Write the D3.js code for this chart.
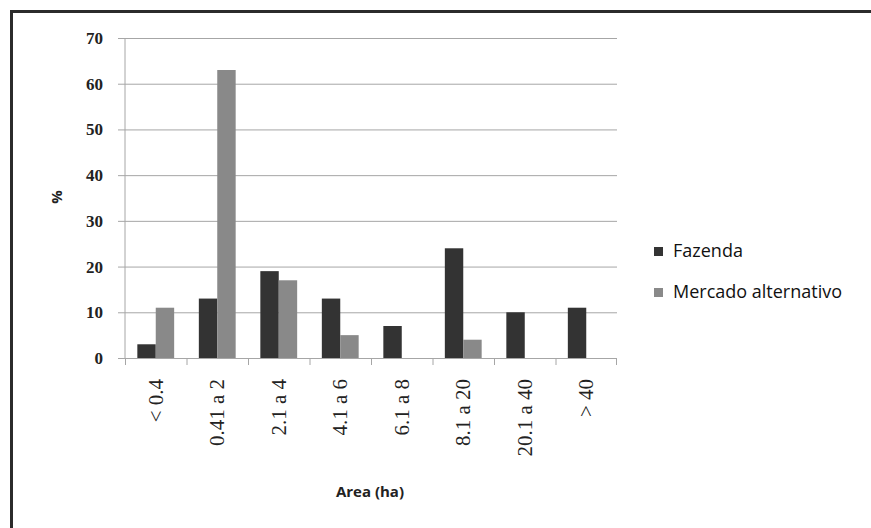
<!DOCTYPE html>
<html>
  <head>
    <title>Area (ha)</title>
    <script src="https://d3js.org/d3.v7.min.js"></script>
  </head>
  <style>
    body { margin: 0; background: #fff; }
    .grid line { stroke: #a6a6a6; }
    .grid path.domain { stroke: none; }
    .ytick text { font-family: "Liberation Serif", serif; font-size: 17px; font-weight: bold; fill: #222; }
    .xtick text { font-family: "Liberation Serif", serif; font-size: 21px; fill: #222; }
  </style>
  <body>
    <svg id="chart" width="871" height="528"></svg>

    <script>
      var categories = ["< 0.4", "0.41 a 2", "2.1 a 4", "4.1 a 6", "6.1 a 8", "8.1 a 20", "20.1 a 40", "> 40"];
      var fazenda = [3, 13, 19, 13, 7, 24, 10, 11];
      var mercado = [11, 63, 17, 5, 0, 4, 0, 0];
      var seriesNames = ["Fazenda", "Mercado alternativo"];
      var seriesColors = ["#333333", "#898989"];
      var yTicks = [0, 10, 20, 30, 40, 50, 60, 70];

      drawChart();

      function drawChart() {
        var svg = d3.select("#chart");

        // outer frame, open past the right/bottom edge like the screenshot
        svg.append("rect")
          .attr("x", 11.5).attr("y", 11.5)
          .attr("width", 900).attr("height", 600)
          .attr("fill", "none")
          .attr("stroke", "#2b2b2b")
          .attr("stroke-width", 3);

        var x0 = 125, x1 = 617, y0 = 358, y1 = 38;

        var xScale = d3.scaleBand().domain(categories).range([x0, x1]).padding(0);
        var yScale = d3.scaleLinear().domain([0, 70]).range([y0, y1]);
        var sub = d3.scaleBand().domain(seriesNames).range([0, xScale.bandwidth()]).paddingInner(0).paddingOuter(0.67);

        // gridlines
        svg.append("g").attr("class", "grid")
          .attr("transform", "translate(" + x0 + ",0)")
          .call(d3.axisRight(yScale).tickValues(yTicks).tickSize(x1 - x0).tickFormat(""));

        // y axis
        var yAxisG = svg.append("g").attr("class", "ytick")
          .attr("transform", "translate(" + x0 + ",0)")
          .call(d3.axisLeft(yScale).tickValues(yTicks).tickSize(7).tickPadding(15));
        yAxisG.selectAll("line").attr("stroke", "#a6a6a6");
        yAxisG.select("path.domain").attr("stroke", "#a6a6a6").attr("d", "M0," + y1 + "V" + y0);

        // bars
        [fazenda, mercado].forEach(function (vals, si) {
          svg.append("g").selectAll("rect")
            .data(vals)
            .enter()
            .append("rect")
              .attr("x", (d, i) => xScale(categories[i]) + sub(seriesNames[si]))
              .attr("width", sub.bandwidth())
              .attr("y", d => yScale(d))
              .attr("height", d => y0 - yScale(d))
              .attr("fill", seriesColors[si]);
        });

        // x axis with ticks between categories
        var xAxisG = svg.append("g").attr("class", "xtick");
        xAxisG.append("line")
          .attr("x1", x0).attr("x2", x1)
          .attr("y1", y0 + 0.5).attr("y2", y0 + 0.5)
          .attr("stroke", "#a6a6a6");
        xAxisG.selectAll("line.tk")
          .data(categories.concat(["end"]))
          .enter()
          .append("line")
            .attr("class", "tk")
            .attr("x1", (d, i) => i < categories.length ? xScale(d) + 0.5 : x1 - 0.5)
            .attr("x2", (d, i) => i < categories.length ? xScale(d) + 0.5 : x1 - 0.5)
            .attr("y1", y0).attr("y2", y0 + 7)
            .attr("stroke", "#a6a6a6");
        xAxisG.selectAll("text")
          .data(categories)
          .enter()
          .append("text")
            .attr("transform", d => "translate(" + (xScale(d) + xScale.bandwidth() / 2 + 7) + "," + (y0 + 21) + ") rotate(-90)")
            .attr("text-anchor", "end")
            .text(d => d);

        // axis titles
        svg.append("text")
          .attr("x", 370).attr("y", 497)
          .attr("text-anchor", "middle")
          .attr("font-family", "Open Sans, sans-serif")
          .attr("font-size", 15).attr("font-weight", "bold")
          .attr("fill", "#222")
          .text("Area (ha)");

        svg.append("text")
          .attr("transform", "translate(62,197) rotate(-90)")
          .attr("text-anchor", "middle")
          .attr("font-family", "Open Sans, sans-serif")
          .attr("font-size", 15).attr("font-weight", "bold")
          .attr("fill", "#222")
          .text("%");

        // legend
        var legend = svg.append("g").selectAll("g")
          .data(seriesNames)
          .enter()
          .append("g")
            .attr("transform", (d, i) => "translate(654," + (247 + i * 41) + ")");
        legend.append("rect")
          .attr("width", 9).attr("height", 9)
          .attr("fill", (d, i) => seriesColors[i]);
        legend.append("text")
          .attr("x", 19).attr("y", 10)
          .attr("font-family", "Open Sans, sans-serif")
          .attr("font-size", 18)
          .attr("fill", "#111")
          .text(d => d);
      }
    </script>
  </body>
</html>
